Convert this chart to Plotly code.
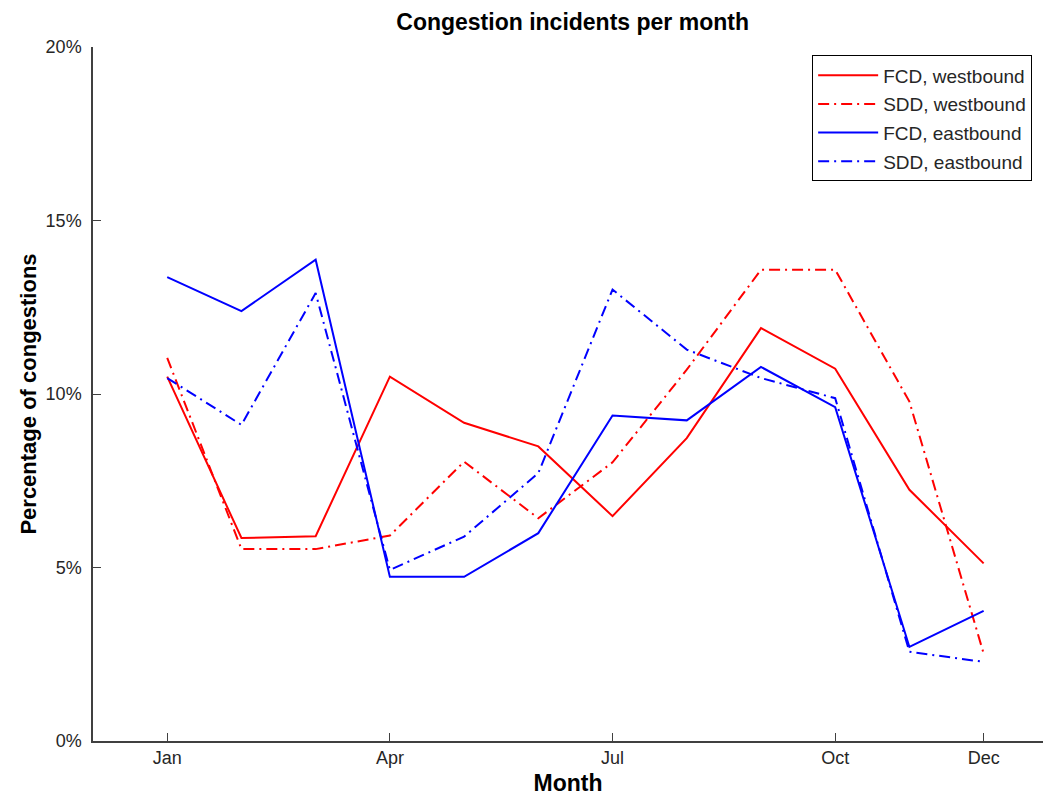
import plotly.graph_objects as go

months = list(range(1, 13))
tick_months = [1, 4, 7, 10, 12]
tick_labels = ["Jan", "Apr", "Jul", "Oct", "Dec"]
y_ticks = [0, 5, 10, 15, 20]
y_tick_labels = ["0%", "5%", "10%", "15%", "20%"]

fcd_west = [10.5, 5.85, 5.9, 10.5, 9.17, 8.49, 6.48, 8.73, 11.9, 10.73, 7.24, 5.12]
sdd_west = [11.04, 5.53, 5.53, 5.92, 8.05, 6.42, 8.03, 10.7, 13.58, 13.58, 9.78, 2.52]
fcd_east = [13.37, 12.39, 13.87, 4.73, 4.73, 5.99, 9.38, 9.24, 10.78, 9.62, 2.71, 3.75]
sdd_east = [10.46, 9.11, 12.91, 4.93, 5.89, 7.72, 13.01, 11.28, 10.46, 9.88, 2.57, 2.28]

DASHDOT = "11px,5px,2px,5px"

series = [
    ("FCD, westbound", fcd_west, "#ff0000", "solid"),
    ("SDD, westbound", sdd_west, "#ff0000", DASHDOT),
    ("FCD, eastbound", fcd_east, "#0000ff", "solid"),
    ("SDD, eastbound", sdd_east, "#0000ff", DASHDOT),
]

fig = go.Figure()
for i, (name, vals, color, dash) in enumerate(series):
    fig.add_trace(go.Scatter(
        x=months, y=vals, mode="lines", name=name,
        legendgroup=f"g{i}",
        line=dict(color=color, width=2, dash=dash),
    ))

font = "Liberation Sans, Arial, Helvetica, sans-serif"
fig.update_layout(
    width=1043, height=796,
    margin=dict(l=93, r=0, t=47, b=55),
    paper_bgcolor="white", plot_bgcolor="white",
    font=dict(family=font, size=18, color="#262626"),
    title=dict(text="<b>Congestion incidents per month</b>", x=0.549, xanchor="center",
               y=0.972, yanchor="middle", font=dict(size=23, color="black")),
    showlegend=True,
    legend=dict(
        x=0.757, y=0.988, xanchor="left", yanchor="top",
        bordercolor="black", borderwidth=1, bgcolor="white",
        font=dict(size=19, color="#262626"),
        traceorder="grouped", tracegroupgap=1, itemwidth=60,
    ),
    xaxis=dict(
        range=[0, 12.8], tickvals=tick_months, ticktext=tick_labels,
        showgrid=False, zeroline=False, showline=True, linecolor="#404040", linewidth=1.5,
        ticks="inside", ticklen=8, tickcolor="#404040",
        tickfont=dict(size=18, color="#262626"),
        title=dict(text="<b>Month</b>", font=dict(size=23, color="black"), standoff=10),
    ),
    yaxis=dict(
        range=[0, 20], tickvals=y_ticks, ticktext=y_tick_labels,
        showgrid=False, zeroline=False, showline=True, linecolor="#404040", linewidth=1.5,
        ticks="inside", ticklen=8, tickcolor="#404040",
        tickfont=dict(size=18, color="#262626"), ticklabelstandoff=6,
        title=dict(text="<b>Percentage of congestions</b>", font=dict(size=22, color="black"), standoff=3),
    ),
)

fig.write_html("out.html")
